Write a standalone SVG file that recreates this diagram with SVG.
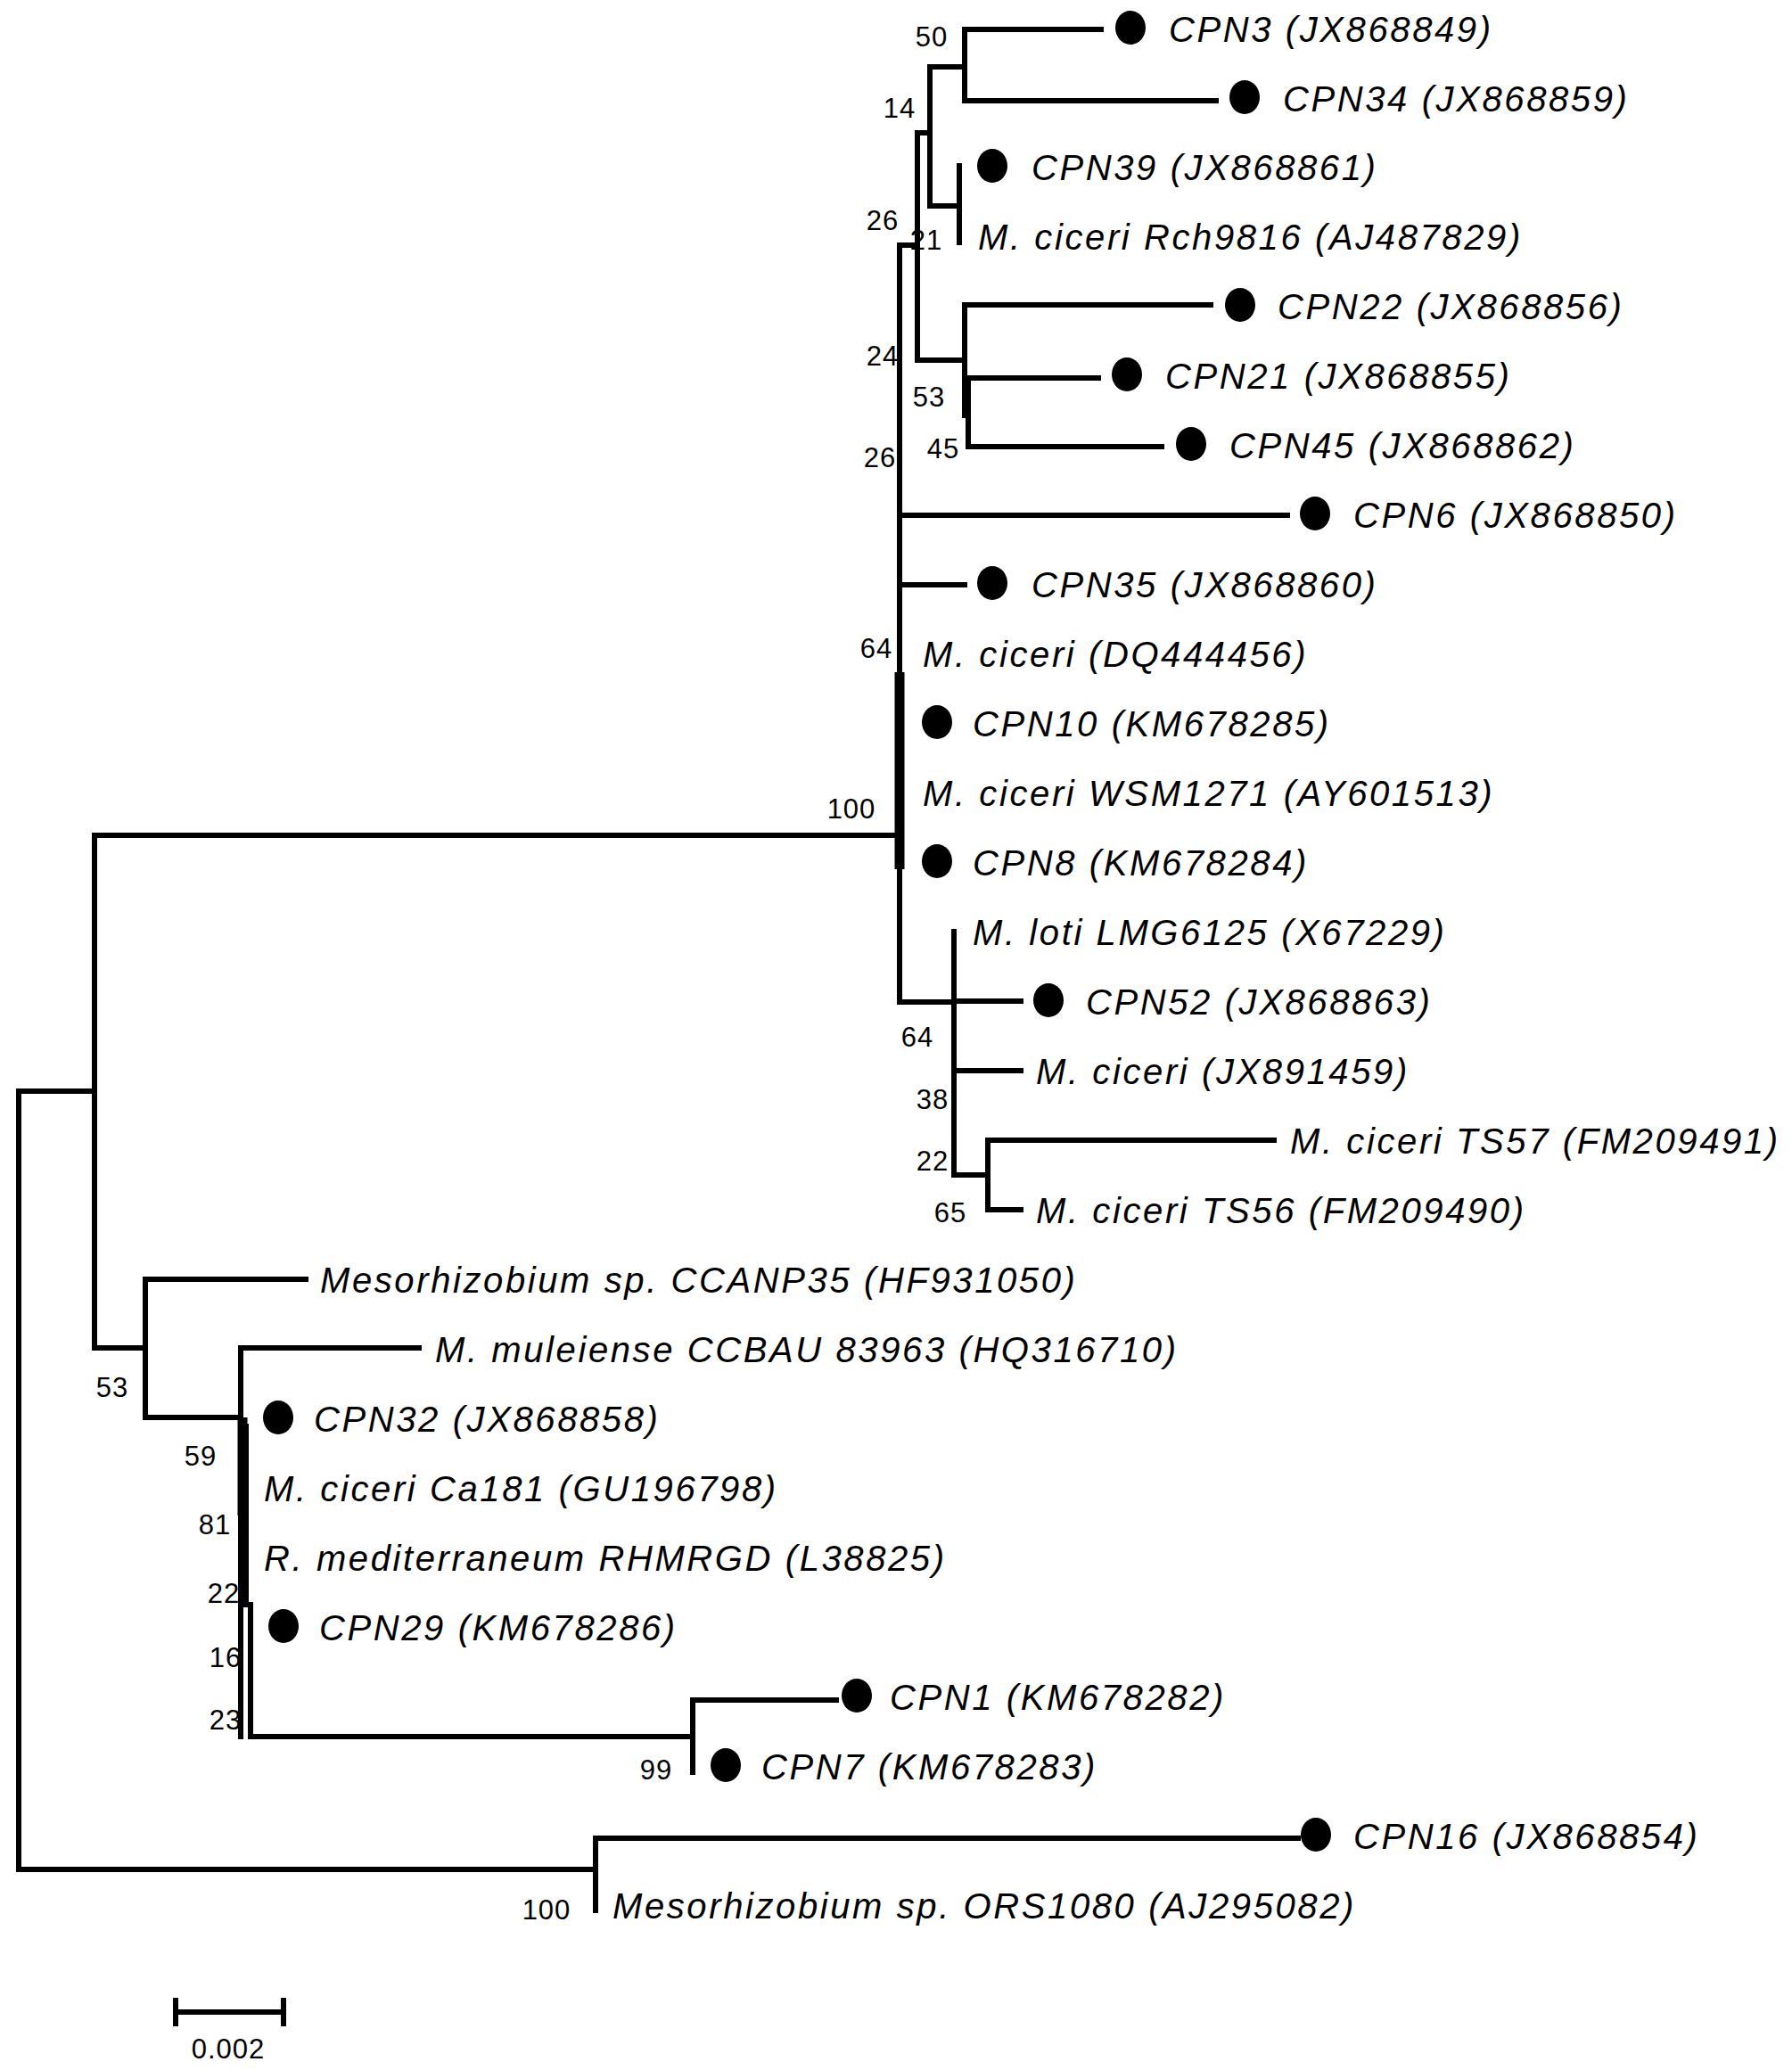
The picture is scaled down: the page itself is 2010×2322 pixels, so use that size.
<svg xmlns="http://www.w3.org/2000/svg" width="2010" height="2322" viewBox="0 0 2010 2322">
<style>
.e{fill:none;stroke:#000;stroke-width:6;stroke-linecap:square}
.t{font-family:"Liberation Sans",Arial,sans-serif;font-style:italic;font-size:40px;letter-spacing:2.6px;fill:#000}
.b{font-family:"Liberation Sans",Arial,sans-serif;font-size:31px;letter-spacing:1px;fill:#000;text-anchor:middle}
.d{fill:#000}
</style>
<rect width="2010" height="2322" fill="#fff"/>
<g id="connectors">
<path class="e" d="M21,1224V2097M21,1224H106M21,2097H668"/>
<path class="e" d="M106,937V1512M106,937H1009M106,1512H163"/>
<path class="e" d="M163,1435V1590M163,1435H343M163,1590H270"/>
<path class="e" d="M270,1512V1948M270,1512H470M276,1600V1800M281,1800V1948M281,1948H777"/>
<path style="fill:none;stroke:#000;stroke-width:11" d="M272,1590V1700"/>
<path class="e" d="M777,1907V1988M777,1907H938"/>
<path class="e" d="M668,2062V2143M668,2062H1456"/>
<path class="e" d="M1009,275V1124M1009,275H1029M1009,578H1444M1009,656H1082M1009,1124H1070"/>
<path style="fill:none;stroke:#000;stroke-width:11" d="M1009,754V975"/>
<path class="e" d="M1029,149V404M1029,149H1043M1043,75V231M1043,75H1082M1082,33V113M1082,33H1235M1082,113H1364M1043,231H1076M1076,186V272"/>
<path class="e" d="M1029,404H1082M1082,342V466M1082,342H1358M1082,424H1232M1086,424V501M1086,501H1303"/>
<path style="fill:none;stroke:#000;stroke-width:9" d="M1084,424V466"/>
<path class="e" d="M1070,1045V1318M1070,1123H1145M1070,1201H1145M1070,1318H1108M1108,1279V1357M1108,1279H1429M1108,1357H1145"/>
<path class="e" d="M197,2257H318M197,2244V2270M318,2244V2270"/>
</g>
<g id="dots">
<ellipse class="d" cx="1268" cy="31" rx="17" ry="19"/>
<ellipse class="d" cx="1396" cy="109" rx="17" ry="19"/>
<ellipse class="d" cx="1113" cy="186" rx="17" ry="19"/>
<ellipse class="d" cx="1391" cy="342" rx="17" ry="19"/>
<ellipse class="d" cx="1264" cy="420" rx="17" ry="19"/>
<ellipse class="d" cx="1336" cy="498" rx="17" ry="19"/>
<ellipse class="d" cx="1475" cy="576" rx="17" ry="19"/>
<ellipse class="d" cx="1113" cy="654" rx="17" ry="19"/>
<ellipse class="d" cx="1051" cy="810" rx="17" ry="19"/>
<ellipse class="d" cx="1051" cy="966" rx="17" ry="19"/>
<ellipse class="d" cx="1176" cy="1122" rx="17" ry="19"/>
<ellipse class="d" cx="312" cy="1590" rx="17" ry="19"/>
<ellipse class="d" cx="318" cy="1824" rx="17" ry="19"/>
<ellipse class="d" cx="961" cy="1902" rx="17" ry="19"/>
<ellipse class="d" cx="814" cy="1980" rx="17" ry="19"/>
<ellipse class="d" cx="1476" cy="2058" rx="17" ry="19"/>
</g>
<g id="taxa">
<text class="t" x="1311" y="47">CPN3 (JX868849)</text>
<text class="t" x="1439" y="125">CPN34 (JX868859)</text>
<text class="t" x="1157" y="202">CPN39 (JX868861)</text>
<text class="t" x="1097" y="280">M. ciceri Rch9816 (AJ487829)</text>
<text class="t" x="1433" y="358">CPN22 (JX868856)</text>
<text class="t" x="1307" y="436">CPN21 (JX868855)</text>
<text class="t" x="1379" y="514">CPN45 (JX868862)</text>
<text class="t" x="1518" y="592">CPN6 (JX868850)</text>
<text class="t" x="1157" y="670">CPN35 (JX868860)</text>
<text class="t" x="1035" y="748">M. ciceri (DQ444456)</text>
<text class="t" x="1091" y="826">CPN10 (KM678285)</text>
<text class="t" x="1035" y="904">M. ciceri WSM1271 (AY601513)</text>
<text class="t" x="1091" y="982">CPN8 (KM678284)</text>
<text class="t" x="1091" y="1060">M. loti LMG6125 (X67229)</text>
<text class="t" x="1218" y="1138">CPN52 (JX868863)</text>
<text class="t" x="1162" y="1216">M. ciceri (JX891459)</text>
<text class="t" x="1447" y="1294">M. ciceri TS57 (FM209491)</text>
<text class="t" x="1162" y="1372">M. ciceri TS56 (FM209490)</text>
<text class="t" x="359" y="1450">Mesorhizobium sp. CCANP35 (HF931050)</text>
<text class="t" x="488" y="1528">M. muleiense CCBAU 83963 (HQ316710)</text>
<text class="t" x="352" y="1606">CPN32 (JX868858)</text>
<text class="t" x="296" y="1684">M. ciceri Ca181 (GU196798)</text>
<text class="t" x="296" y="1762">R. mediterraneum RHMRGD (L38825)</text>
<text class="t" x="358" y="1840">CPN29 (KM678286)</text>
<text class="t" x="998" y="1918">CPN1 (KM678282)</text>
<text class="t" x="854" y="1996">CPN7 (KM678283)</text>
<text class="t" x="1518" y="2074">CPN16 (JX868854)</text>
<text class="t" x="687" y="2152">Mesorhizobium sp. ORS1080 (AJ295082)</text>
</g>
<g id="bootstrap">
<text class="b" x="1045" y="52">50</text>
<text class="b" x="1009" y="132">14</text>
<text class="b" x="990" y="258">26</text>
<text class="b" x="1039" y="280">21</text>
<text class="b" x="990" y="410">24</text>
<text class="b" x="1042" y="456">53</text>
<text class="b" x="987" y="524">26</text>
<text class="b" x="1058" y="514">45</text>
<text class="b" x="983" y="738">64</text>
<text class="b" x="955" y="918">100</text>
<text class="b" x="1029" y="1174">64</text>
<text class="b" x="1046" y="1244">38</text>
<text class="b" x="1046" y="1313">22</text>
<text class="b" x="1066" y="1371">65</text>
<text class="b" x="126" y="1567">53</text>
<text class="b" x="225" y="1644">59</text>
<text class="b" x="241" y="1721">81</text>
<text class="b" x="251" y="1798">22</text>
<text class="b" x="253" y="1870">16</text>
<text class="b" x="253" y="1940">23</text>
<text class="b" x="736" y="1996">99</text>
<text class="b" x="613" y="2153">100</text>
<text class="b" x="256" y="2309">0.002</text>
</g>
</svg>
